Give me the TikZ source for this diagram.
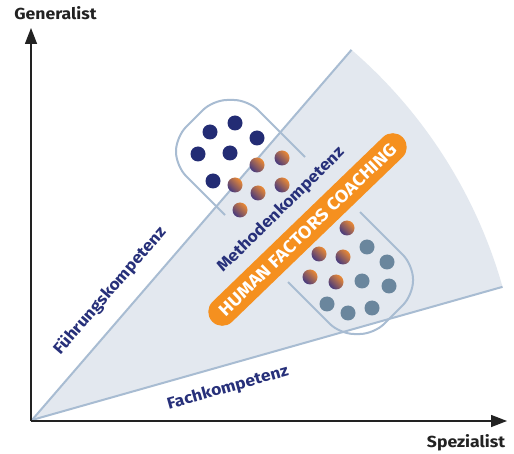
\documentclass[tikz,border=0pt]{standalone}
\usepackage{fontspec}
\setmainfont[FakeStretch=1.1]{Fira Sans}
\usetikzlibrary{arrows.meta}
\definecolor{navytxt}{HTML}{27307A}
\definecolor{navydot}{HTML}{232C74}
\definecolor{slatedot}{HTML}{6A869D}
\definecolor{wedgefill}{HTML}{E3E8EF}
\definecolor{wedgeline}{HTML}{A8BCD2}
\definecolor{hforange}{HTML}{F5901F}
\definecolor{gorange}{HTML}{EC8A34}
\definecolor{gpurple}{HTML}{45397E}
\definecolor{axiscol}{HTML}{222222}
\tikzset{
  axisline/.style={draw=axiscol, line width=1.4pt, -{Triangle[length=16pt,width=12pt]}},
  wline/.style={draw=wedgeline, line width=2pt},
  boxline/.style={draw=wedgeline, line width=2pt, rounded corners=14pt},
  lbl/.style={text=navytxt, font=\bfseries\fontsize{16}{16}\selectfont, inner sep=0pt},
  axl/.style={text=axiscol, font=\bfseries\fontsize{16}{16}\selectfont, inner sep=0pt},
  capsule/.style={fill=hforange, text=white, font=\bfseries\fontsize{17.5}{17.5}\selectfont,
    minimum width=265pt, minimum height=28pt, rounded corners=14pt, inner sep=0pt},
  ndot/.style={fill=navydot},
  sdot/.style={fill=slatedot},
  gdot/.style={left color=gorange, right color=gpurple, shading angle=-45},
}
\begin{document}
\begin{tikzpicture}[x=1pt,y=-1pt]
\useasboundingbox (0,0) rectangle (514,454);
\fill[white] (0,0) rectangle (514,454);
\coordinate (O) at (32,420);
\path (O) ++(-49.2:489) coordinate (U);
\path (O) ++(-15.8:489) coordinate (L);
% wedge
\fill[wedgefill] (O) -- (U) arc[start angle=-49.2, end angle=-15.8, radius=489] -- cycle;
\draw[wline] (O) -- (U);
\draw[wline] (O) -- (L);
% axes
\coordinate (A) at (31,421);
\coordinate (ytip) at (31,28);
\coordinate (xtip) at (507,421);
\draw[axisline] (A) -- (ytip);
\draw[axisline] (A) -- (xtip);
% boxes
\draw[boxline] (305,157) -- (248,100) -- (213,100) -- (176,137) -- (176,166) -- (225,215);
\draw[boxline] (360,212) -- (413,265) -- (413,295) -- (374,334) -- (340,334) -- (288,282);
% navy dots
\foreach \p in {(210,132),(235,123),(257,138),(198,154),(230,153),(213,181)}
  \fill[ndot] \p circle[radius=7.5];
% gradient dots
\foreach \p in {(257,165),(282,158),(235,185),(258,193),(282,185),(240,210),
                (347,228),(319,254),(343,257),(310,277),(336,282)}
  \shade[gdot] \p circle[radius=7.5];
% slate dots
\foreach \p in {(367,247),(387,262),(362,281),(389,286),(327,304),(348,313),(372,308)}
  \fill[sdot] \p circle[radius=7.5];
% capsule
\node[capsule, rotate=44] (hfc) at (307.5,229.5) {HUMAN FACTORS COACHING};
% labels
\node[lbl, rotate=49.2] (fk) at (110,291) {Führungskompetenz};
\node[lbl, rotate=15.7] (fach) at (228,388) {Fachkompetenz};
\node[lbl, rotate=44.5] (mk) at (281,210) {Methodenkompetenz};
\node[axl] (gen) at (55.5,13.5) {Generalist};
\node[axl] (spez) at (466,443) {Spezialist};
\end{tikzpicture}
\end{document}
